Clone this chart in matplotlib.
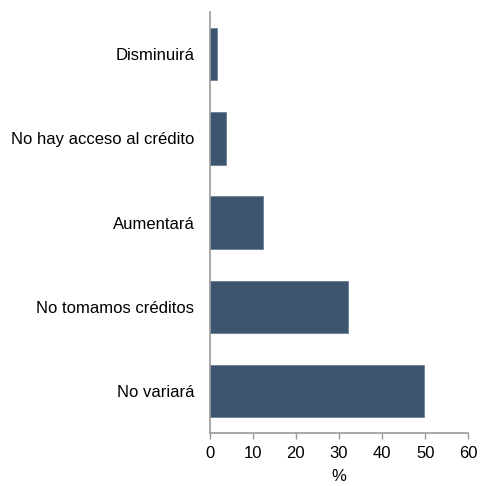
import matplotlib
matplotlib.use('Agg')
import matplotlib.pyplot as plt

categorias = ['No variará', 'No tomamos créditos', 'Aumentará',
              'No hay acceso al crédito', 'Disminuirá']
valores = [49.8, 32.0, 12.4, 3.7, 1.8]
ticks_x = [0, 10, 20, 30, 40, 50, 60]

plt.rcParams['font.family'] = ['Liberation Sans', 'DejaVu Sans']

fig = plt.figure(figsize=(4.81, 4.86), dpi=100)
ax = fig.add_axes([0.436, 0.109, 0.5376, 0.866])

ax.barh(range(len(categorias)), valores, height=0.62, color='#3d556f',
        edgecolor='#6b7f94', linewidth=0.6)

ax.set_yticks(range(len(categorias)))
ax.set_yticklabels(categorias, fontsize=12)
ax.set_ylim(-0.5, len(categorias) - 0.5)
ax.set_xlim(0, 60)
ax.set_xticks(ticks_x)
ax.tick_params(axis='x', labelsize=12, color='#999999', length=4, width=1, pad=5)
ax.tick_params(axis='y', length=0, pad=11)
ax.set_xlabel('%', fontsize=12, labelpad=6)

for s in ['top', 'right']:
    ax.spines[s].set_visible(False)
for s in ['left', 'bottom']:
    ax.spines[s].set_color('#999999')
    ax.spines[s].set_linewidth(1.2)

fig.savefig('out.png', dpi=100)
